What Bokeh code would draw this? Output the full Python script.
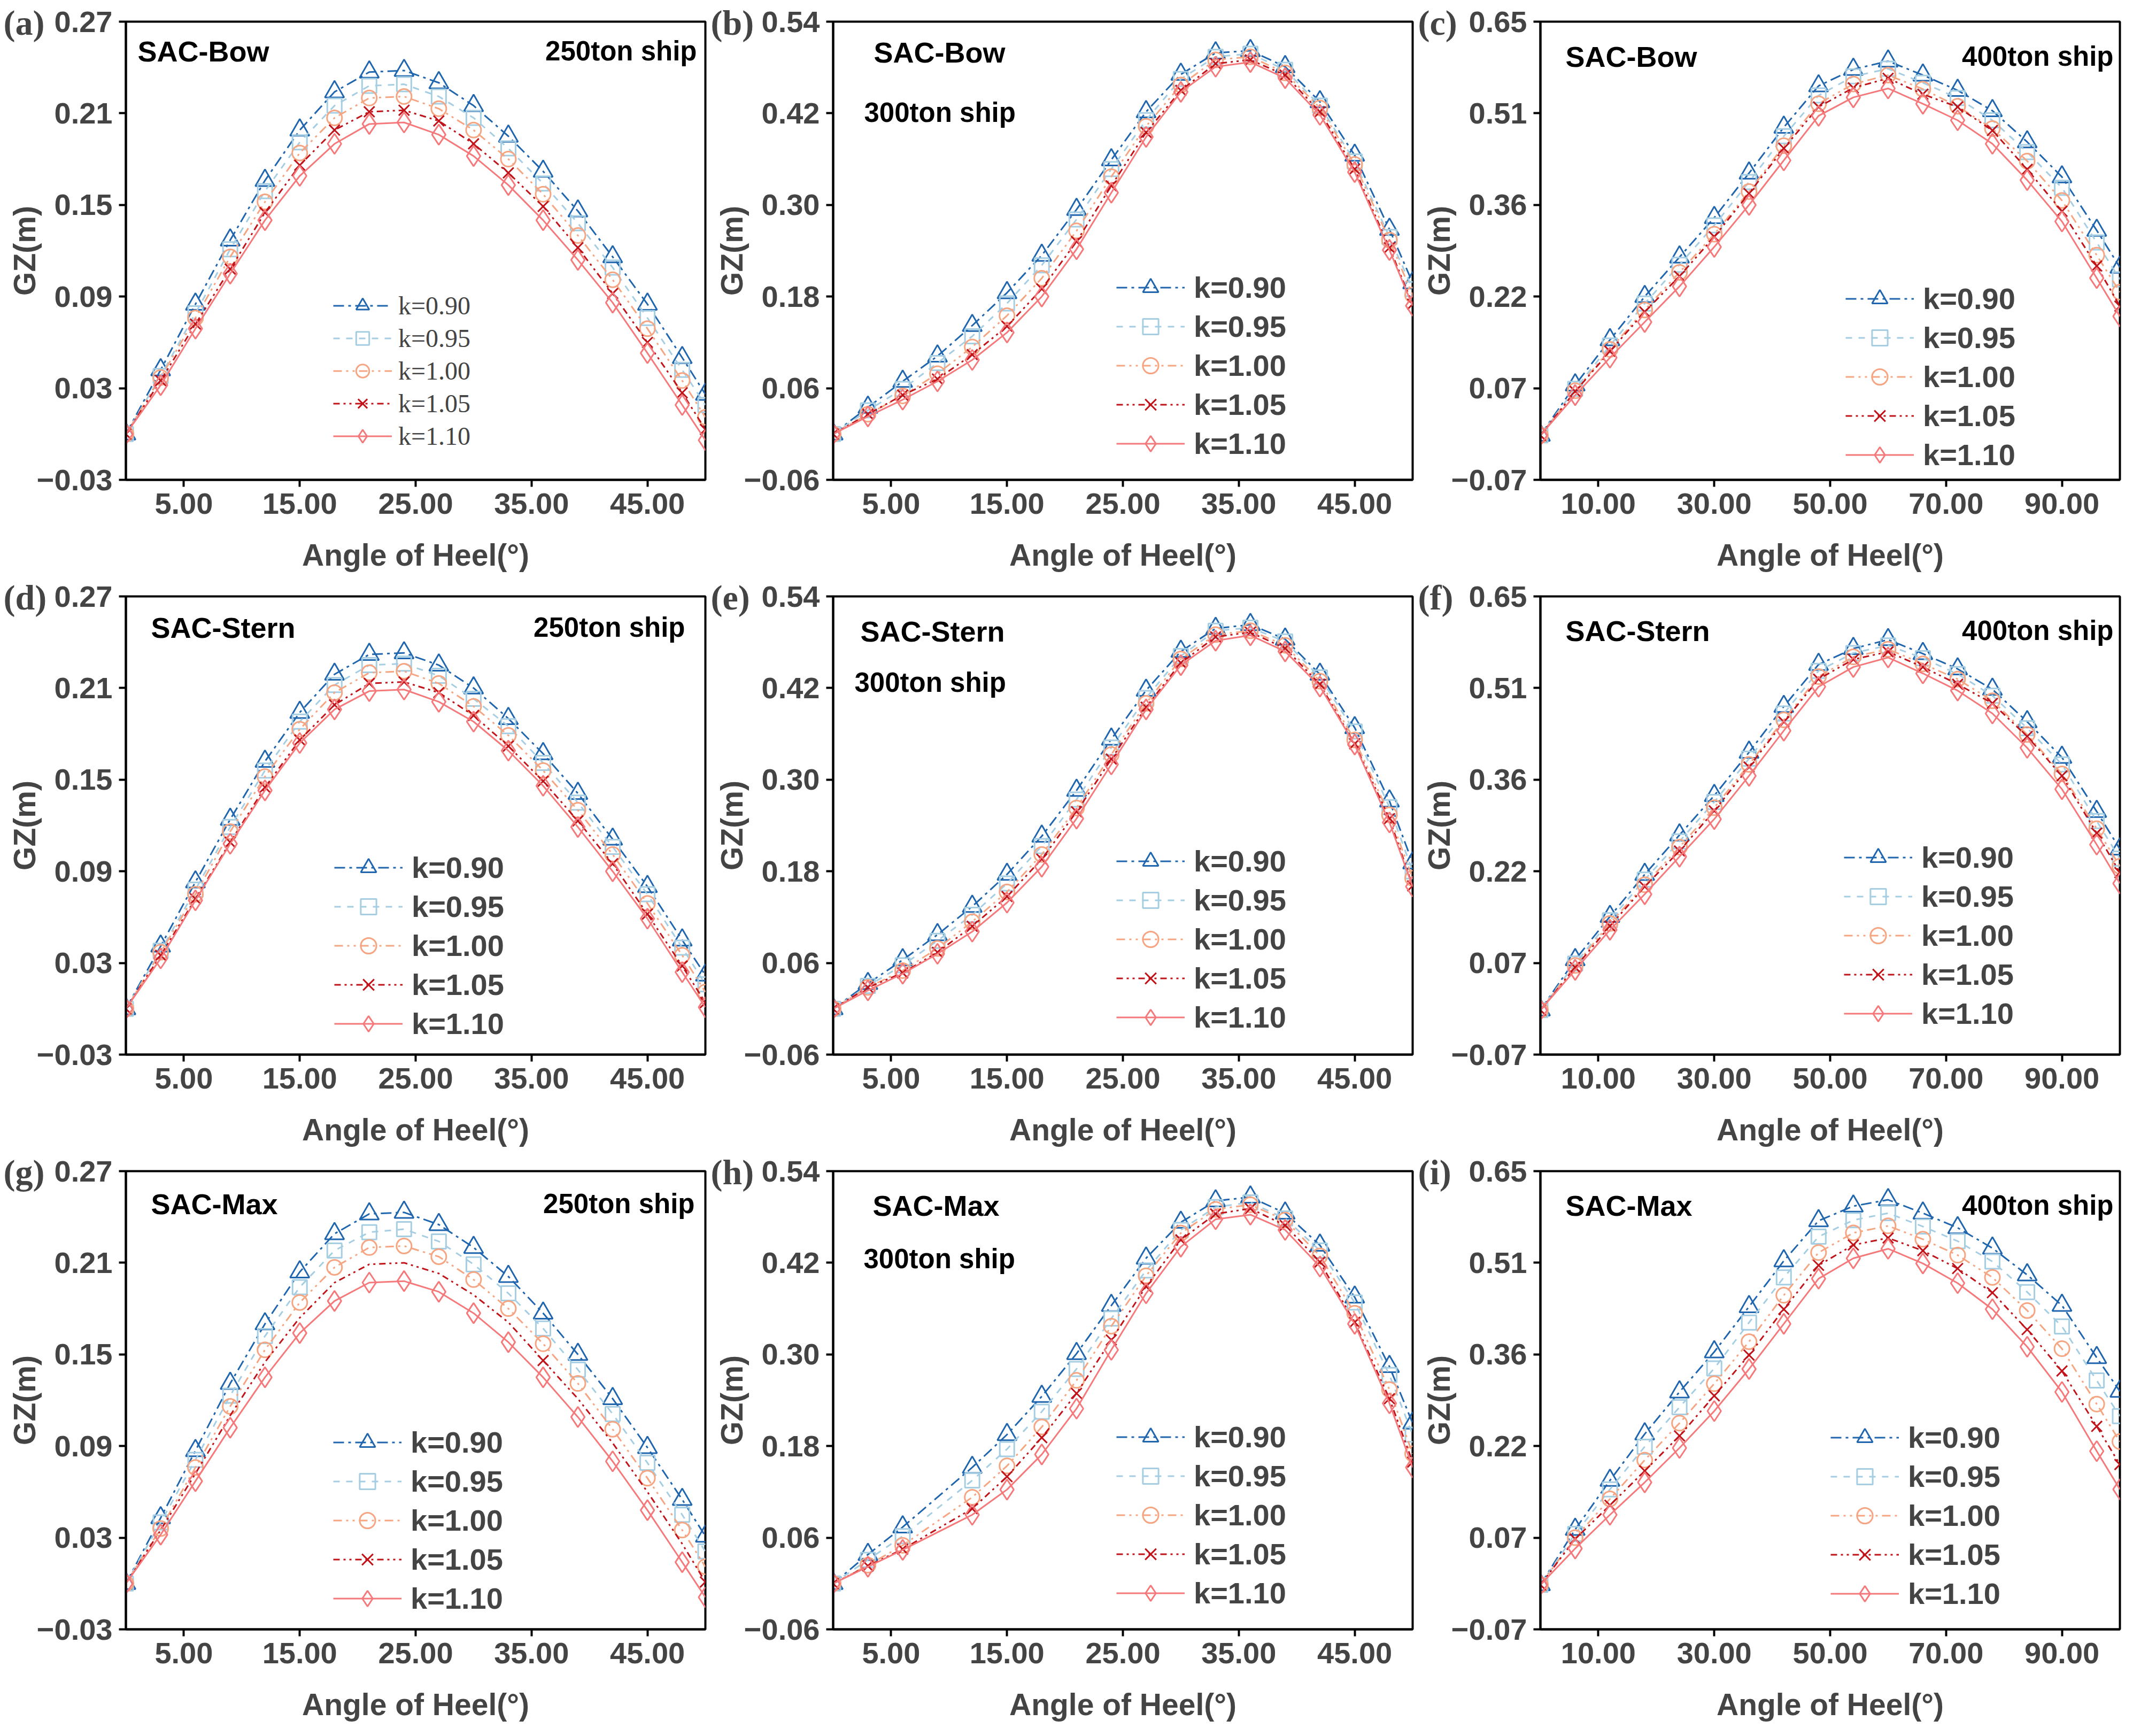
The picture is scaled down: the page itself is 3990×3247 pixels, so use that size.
from bokeh.embed import file_html
from bokeh.layouts import gridplot
from bokeh.models import (ColumnDataSource, CustomJSTickFormatter, FixedTicker,
                          Label, Legend, LegendItem, Range1d, Title)
from bokeh.plotting import figure
from bokeh.resources import INLINE

# heel angles (deg)
ANGLE_50 = [0, 3, 6, 9, 12, 15, 18, 21, 24, 27, 30, 33, 36, 39, 42, 45, 48, 50]
ANGLE_50_H = [0, 3, 6, 12, 15, 18, 21, 24, 27, 30, 33, 36, 39, 42, 45, 48, 50]
ANGLE_100 = [0, 6, 12, 18, 24, 30, 36, 42, 48, 54, 60, 66, 72, 78, 84, 90, 96, 100]

K_KEYS = ["0.90", "0.95", "1.00", "1.05", "1.10"]

# GZ (m): 250ton / 300ton / 400ton ship, SAC-Bow / Stern / Max
GZ_A = {
    "0.90": [0, .042, .085, .127, .166, .199, .224, .237, .238, .230, .215, .195, .172, .146, .116, .085, .050, .026],
    "0.95": [0, .038, .079, .121, .159, .191, .215, .228, .229, .221, .207, .187, .164, .138, .109, .076, .042, .019],
    "1.00": [0, .037, .076, .116, .152, .184, .207, .220, .221, .213, .199, .180, .157, .130, .101, .069, .035, .011],
    "1.05": [0, .035, .072, .108, .145, .176, .199, .211, .212, .205, .190, .171, .149, .122, .092, .060, .027, .003],
    "1.10": [0, .032, .069, .105, .140, .169, .190, .203, .204, .196, .182, .163, .140, .114, .086, .053, .019, -.004],
}
GZ_B = {
    "0.90": [0, .035, .069, .102, .142, .185, .234, .294, .359, .422, .471, .499, .502, .481, .435, .365, .268, .198],
    "0.95": [0, .031, .059, .093, .128, .171, .221, .281, .347, .411, .465, .494, .498, .477, .430, .357, .258, .190],
    "1.00": [0, .026, .050, .079, .114, .155, .204, .266, .337, .403, .457, .490, .494, .473, .427, .353, .254, .182],
    "1.05": [0, .026, .051, .072, .104, .141, .190, .252, .325, .395, .450, .485, .490, .470, .422, .347, .244, .170],
    "1.10": [0, .023, .045, .069, .097, .133, .180, .242, .316, .389, .448, .481, .487, .466, .418, .343, .241, .168],
}
GZ_C = {
    "0.90": [0, .079, .150, .218, .280, .342, .412, .484, .549, .575, .588, .566, .542, .510, .461, .406, .322, .264],
    "0.95": [0, .073, .141, .207, .268, .330, .398, .470, .534, .564, .576, .554, .530, .495, .445, .389, .303, .245],
    "1.00": [0, .070, .135, .197, .256, .316, .383, .455, .521, .552, .566, .544, .517, .482, .431, .369, .283, .225],
    "1.05": [0, .069, .132, .194, .250, .312, .380, .451, .516, .546, .561, .536, .516, .479, .418, .352, .266, .203],
    "1.10": [0, .063, .122, .178, .234, .296, .362, .432, .502, .531, .545, .521, .495, .458, .401, .336, .247, .187],
}
GZ_D = {
    "0.90": [0, .041, .083, .124, .162, .194, .219, .232, .233, .225, .210, .190, .167, .141, .111, .080, .045, .022],
    "0.95": [0, .038, .078, .119, .156, .188, .212, .225, .226, .218, .203, .185, .161, .135, .106, .075, .040, .016],
    "1.00": [0, .037, .075, .116, .152, .183, .207, .220, .221, .213, .198, .179, .156, .130, .101, .069, .035, .011],
    "1.05": [0, .035, .072, .109, .145, .176, .199, .213, .214, .207, .192, .172, .149, .123, .095, .062, .028, .004],
    "1.10": [0, .033, .071, .108, .143, .174, .196, .208, .209, .201, .188, .169, .146, .119, .090, .059, .024, .001],
}
GZ_E = {
    "0.90": [0, .033, .064, .097, .134, .176, .226, .286, .353, .417, .468, .498, .503, .484, .438, .368, .272, .191],
    "0.95": [0, .030, .057, .089, .123, .164, .213, .274, .342, .407, .462, .495, .499, .481, .434, .363, .264, .180],
    "1.00": [0, .028, .050, .079, .114, .153, .202, .263, .333, .400, .458, .490, .495, .476, .429, .352, .254, .171],
    "1.05": [0, .028, .047, .074, .108, .147, .196, .258, .327, .395, .453, .487, .493, .472, .425, .347, .249, .161],
    "1.10": [0, .024, .046, .072, .101, .139, .186, .249, .320, .392, .450, .482, .489, .468, .422, .346, .244, .160],
}
GZ_F = {
    "0.90": [0, .079, .147, .213, .275, .337, .405, .477, .543, .568, .582, .560, .536, .504, .453, .397, .312, .253],
    "0.95": [0, .073, .141, .205, .265, .327, .395, .466, .533, .561, .573, .553, .528, .494, .443, .386, .297, .238],
    "1.00": [0, .070, .136, .197, .256, .318, .386, .456, .524, .555, .567, .544, .520, .486, .433, .371, .285, .226],
    "1.05": [0, .067, .132, .194, .250, .313, .382, .453, .520, .551, .563, .539, .512, .482, .430, .368, .278, .216],
    "1.10": [0, .063, .126, .182, .241, .300, .368, .439, .508, .539, .554, .529, .502, .466, .412, .347, .260, .199],
}
GZ_G = {
    "0.90": [0, .043, .087, .131, .170, .204, .229, .242, .243, .235, .220, .201, .177, .150, .121, .089, .055, .031],
    "0.95": [0, .040, .081, .123, .162, .194, .218, .230, .232, .224, .209, .190, .167, .140, .111, .079, .045, .021],
    "1.00": [0, .036, .076, .116, .153, .184, .207, .220, .221, .214, .199, .180, .157, .131, .101, .069, .035, .011],
    "1.05": [0, .035, .072, .110, .145, .174, .197, .209, .210, .203, .189, .171, .146, .121, .092, .060, .026, .001],
    "1.10": [0, .032, .067, .102, .135, .164, .185, .197, .198, .191, .177, .158, .135, .109, .080, .048, .014, -.009],
}
GZ_H = {
    "0.90": [0, .038, .074, .152, .195, .245, .301, .364, .426, .473, .501, .506, .485, .443, .375, .284, .210],
    "0.95": [0, .031, .062, .135, .176, .225, .281, .347, .410, .463, .493, .499, .478, .436, .368, .273, .195],
    "1.00": [0, .024, .050, .113, .154, .205, .266, .337, .403, .459, .490, .496, .476, .429, .354, .254, .170],
    "1.05": [0, .023, .045, .098, .140, .191, .249, .319, .389, .450, .484, .491, .469, .421, .342, .242, .159],
    "1.10": [0, .022, .044, .090, .123, .169, .229, .306, .380, .441, .477, .483, .463, .415, .340, .236, .152],
}
GZ_I = {
    "0.90": [0, .087, .164, .237, .303, .366, .437, .509, .572, .595, .605, .584, .561, .529, .487, .439, .357, .304],
    "0.95": [0, .080, .150, .217, .279, .340, .412, .483, .547, .573, .584, .563, .540, .508, .460, .406, .321, .265],
    "1.00": [0, .074, .135, .196, .254, .316, .382, .455, .522, .553, .564, .543, .518, .483, .431, .371, .284, .225],
    "1.05": [0, .072, .125, .179, .234, .297, .361, .433, .502, .534, .545, .525, .497, .459, .401, .336, .249, .189],
    "1.10": [0, .057, .110, .161, .215, .273, .339, .410, .481, .513, .528, .505, .474, .433, .374, .303, .210, .150],
}
# in (g) the k=1.05 curve only shows markers at these angles
G_K105_MARKED = [36, 50]

X_TICKS_50 = [5, 15, 25, 35, 45]
X_TICKS_100 = [10, 30, 50, 70, 90]
Y_TICKS_250 = [-0.03, 0.03, 0.09, 0.15, 0.21, 0.27]
Y_TICKS_300 = [-0.06, 0.06, 0.18, 0.30, 0.42, 0.54]
Y_TICKS_400 = [-0.07, 0.074, 0.218, 0.362, 0.506, 0.65]

STYLE = {
    "0.90": dict(color="#2066ae", marker="triangle", size=36, dash="20 8 5 8"),
    "0.95": dict(color="#a6cee3", marker="square", size=27, dash="12 12"),
    "1.00": dict(color="#f6a582", marker="circle", size=28, dash="16 8 4 8 4 8"),
    "1.05": dict(color="#c0141a", marker="x", size=28, dash="12 7 4 7 4 7"),
    "1.10": dict(color="#f5797b", marker="diamond", size=38, dash="solid"),
}

W, H = 1323, 1075
FW, FH = 1084, 857
SANS = "Liberation Sans"
SERIF = "Liberation Serif"

fmt = CustomJSTickFormatter(code="return (tick < 0 ? '\\u2212' : '') + Math.abs(tick).toFixed(2);")


def text(p, s, x, y, align="left", size="54px"):
    p.add_layout(Label(x=x, y=y, x_units="screen", y_units="screen", text=s,
                       text_align=align, text_baseline="middle", text_font=SANS,
                       text_font_size=size, text_font_style="bold", text_color="black"))


def panel(tag, angles, gz, xmax, xticks, yticks, method, ship, leg_xy, serif_legend=False):
    p = figure(width=W, height=H, x_range=Range1d(0, xmax),
               y_range=Range1d(yticks[0], yticks[-1]),
               output_backend="svg", toolbar_location=None,
               min_border_left=235, min_border_right=4, min_border_top=40, min_border_bottom=178,
               x_axis_label="Angle of Heel(°)", y_axis_label="GZ(m)")
    p.grid.visible = False
    p.outline_line_color = "black"
    p.outline_line_width = 4
    p.outline_line_alpha = 1
    p.xaxis.ticker = FixedTicker(ticks=xticks)
    p.yaxis.ticker = FixedTicker(ticks=yticks)
    for ax in (p.xaxis[0], p.yaxis[0]):
        ax.formatter = fmt
        ax.axis_line_width = 4
        ax.major_tick_line_width = 4
        ax.major_tick_out = 13
        ax.major_tick_in = 0
        ax.minor_tick_out = 0
        ax.minor_tick_in = 0
        ax.major_label_text_font = SANS
        ax.major_label_text_font_size = "56px"
        ax.major_label_text_font_style = "bold"
        ax.major_label_standoff = 12
        ax.axis_label_text_font = SANS
        ax.axis_label_text_font_size = "57px"
        ax.axis_label_text_font_style = "bold"
    p.xaxis.axis_label_standoff = 42
    p.yaxis.axis_label_standoff = -12

    items = []
    for k in K_KEYS:
        st = STYLE[k]
        src = ColumnDataSource(dict(x=angles, y=gz[k]))
        r_line = p.line("x", "y", source=src, line_color=st["color"], line_width=3,
                        line_dash=st["dash"])
        if tag == "g" and k == "1.05":
            keep = [i for i, a in enumerate(angles) if a in G_K105_MARKED]
            msrc = ColumnDataSource(dict(x=[angles[i] for i in keep], y=[gz[k][i] for i in keep]))
        else:
            msrc = src
        r_mark = p.scatter("x", "y", source=msrc, marker=st["marker"], size=st["size"],
                           line_color=st["color"], fill_color=None, line_width=3)
        items.append(LegendItem(label="k=" + k, renderers=[r_line, r_mark]))

    if serif_legend:
        legend = Legend(items=items, location=leg_xy, glyph_width=110, glyph_height=61,
                        label_height=61, spacing=0, label_standoff=12,
                        label_text_font=SERIF, label_text_font_size="48px",
                        label_text_font_style="normal")
    else:
        legend = Legend(items=items, location=leg_xy, glyph_width=128, glyph_height=73,
                        label_height=73, spacing=0, label_standoff=17,
                        label_text_font=SANS, label_text_font_size="56px",
                        label_text_font_style="bold")
    legend.padding = 0
    legend.margin = 0
    legend.border_line_color = None
    legend.background_fill_alpha = 0
    p.add_layout(legend)

    # panel letter, left of the top y tick label
    p.add_layout(Title(text="(" + tag + ")", align="left", offset=-229, standoff=-76,
                       text_font=SERIF, text_font_size="66px", text_font_style="bold"),
                 "above")
    mx, my = method
    text(p, "SAC-" + ("Bow" if tag in "abc" else "Stern" if tag in "def" else "Max"), mx, FH - my)
    sx, sy, salign = ship
    text(p, ship_names[tag], sx, FH - sy, align=salign, size="51px")
    return p


ship_names = {"a": "250ton ship", "b": "300ton ship", "c": "400ton ship",
              "d": "250ton ship", "e": "300ton ship", "f": "400ton ship",
              "g": "250ton ship", "h": "300ton ship", "i": "400ton ship"}

pa = panel("a", ANGLE_50, GZ_A, 50, X_TICKS_50, Y_TICKS_250, (22, 55), (FW - 16, 55, "right"), (388, 51), serif_legend=True)
pb = panel("b", ANGLE_50, GZ_B, 50, X_TICKS_50, Y_TICKS_300, (76, 57), (58, 170, "left"), (530, 31))
pc = panel("c", ANGLE_100, GZ_C, 100, X_TICKS_100, Y_TICKS_400, (47, 65), (FW - 12, 65, "right"), (571, 10))
pd = panel("d", ANGLE_50, GZ_D, 50, X_TICKS_50, Y_TICKS_250, (47, 58), (FW - 38, 58, "right"), (390, 21))
pe = panel("e", ANGLE_50, GZ_E, 50, X_TICKS_50, Y_TICKS_300, (51, 65), (40, 161, "left"), (530, 33))
pf = panel("f", ANGLE_100, GZ_F, 100, X_TICKS_100, Y_TICKS_400, (47, 64), (FW - 12, 64, "right"), (568, 40))
pg = panel("g", ANGLE_50, GZ_G, 50, X_TICKS_50, Y_TICKS_250, (47, 61), (FW - 20, 61, "right"), (388, 21))
ph = panel("h", ANGLE_50_H, GZ_H, 50, X_TICKS_50, Y_TICKS_300, (74, 64), (57, 164, "left"), (530, 31))
pi = panel("i", ANGLE_100, GZ_I, 100, X_TICKS_100, Y_TICKS_400, (47, 64), (FW - 12, 64, "right"), (543, 30))

grid = gridplot([[pa, pb, pc], [pd, pe, pf], [pg, ph, pi]], toolbar_location=None)

open("out.html", "w").write(file_html(grid, INLINE))
